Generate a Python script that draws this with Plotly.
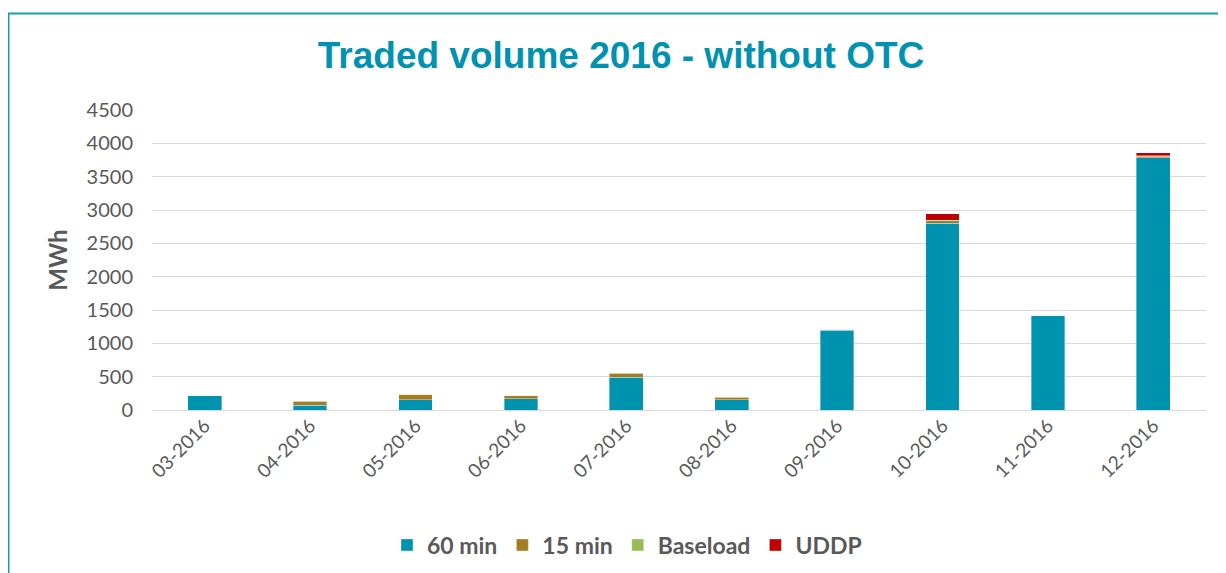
import plotly.graph_objects as go

months = ["03-2016", "04-2016", "05-2016", "06-2016", "07-2016",
          "08-2016", "09-2016", "10-2016", "11-2016", "12-2016"]
min60 = [220, 75, 155, 170, 490, 155, 1195, 2805, 1420, 3785]
min15 = [5, 60, 75, 50, 65, 40, 15, 35, 0, 25]
baseload = [0, 5, 5, 5, 5, 5, 5, 5, 0, 5]
uddp = [0, 0, 0, 0, 0, 0, 0, 100, 0, 45]
y_ticks = [0, 500, 1000, 1500, 2000, 2500, 3000, 3500, 4000, 4500]

series = [
    ("60 min", min60, "#0093B0"),
    ("15 min", min15, "#A67C21"),
    ("Baseload", baseload, "#9BBB59"),
    ("UDDP", uddp, "#C00000"),
]

# page has an 8px body margin; compensate
OFF = 8
PL, PR, PT, PB = 152 - OFF, 1206 - OFF, 110 - OFF, 410 - OFF
W, H = 1226, 573

fig = go.Figure()
for name, vals, col in series:
    fig.add_trace(go.Bar(x=months, y=vals, name=name, marker_color=col,
                         marker_line=dict(width=0.6, color="rgba(255,255,255,0.6)")))

fig.update_layout(
    barmode="stack",
    bargap=0.68,
    width=W, height=H,
    margin=dict(l=PL, r=W - PR, t=PT, b=H - PB),
    paper_bgcolor="white", plot_bgcolor="white",
    title=dict(text="<b>Traded volume 2016 - without OTC</b>", x=0.5, xanchor="center",
               y=1 - (55 - OFF) / H, yanchor="middle",
               font=dict(family="Liberation Sans, Arial", size=37, color="#0092B0")),
    font=dict(family="Lato, Open Sans", color="#595959"),
    legend=dict(orientation="h", x=(627 - OFF - PL) / (PR - PL), xanchor="center",
                y=(PB - (545 - OFF)) / (PB - PT), yanchor="middle",
                font=dict(family="Lato", size=23, color="#595959", weight="bold"),
                traceorder="normal", bgcolor="rgba(0,0,0,0)"),
    showlegend=True,
)
fig.update_xaxes(tickangle=-45, tickfont=dict(size=19, color="#595959"),
                 showline=False, showgrid=False, ticks="")
fig.update_yaxes(range=[0, 4500], tickvals=y_ticks, showgrid=True, gridcolor="#D9D9D9",
                 gridwidth=1.3, zeroline=True, zerolinecolor="#D9D9D9", zerolinewidth=1.3,
                 tickfont=dict(size=20, color="#595959"), ticks="", ticklabelstandoff=18,
                 title=dict(text="<b>MWh</b>", font=dict(size=24, color="#595959"), standoff=12))

fig.add_shape(type="rect", xref="paper", yref="paper",
              x0=(0.5 - PL) / (PR - PL), x1=(1240 - PL) / (PR - PL),
              y0=(PB - 600) / (PB - PT), y1=(PB - (13.5 - OFF)) / (PB - PT),
              line=dict(color="#1A9BB4", width=2), fillcolor="rgba(0,0,0,0)", layer="below")

fig.write_html("out.html")
